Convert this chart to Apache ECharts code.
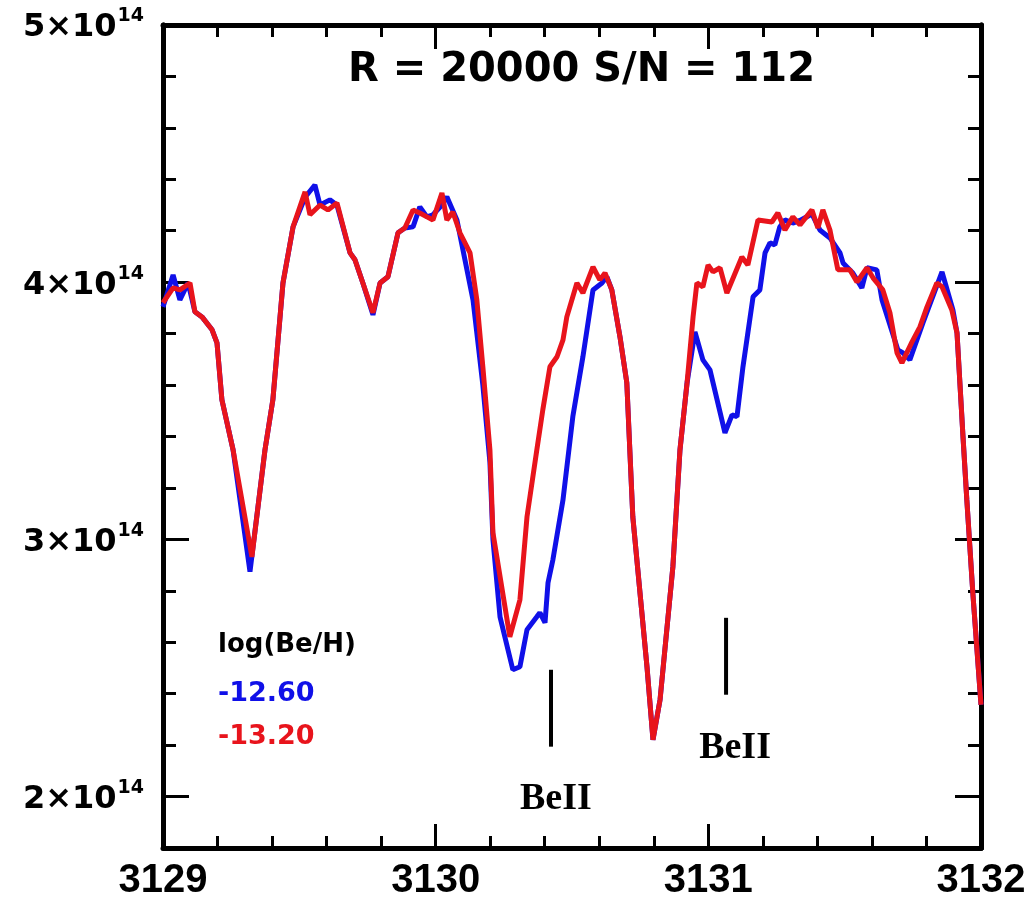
<!DOCTYPE html>
<html><head><meta charset="utf-8">
<script src="https://cdn.jsdelivr.net/npm/echarts@6/dist/echarts.min.js"></script>
<style>html,body{margin:0;padding:0;background:#fff}#c{width:1034px;height:903px}</style>
</head><body><div id="c"></div><script>
// flux in units of 1e14
const redWave=[3129.000,3129.037,3129.062,3129.099,3129.117,3129.143,3129.180,3129.198,3129.216,3129.257,3129.326,3129.374,3129.403,3129.440,3129.477,3129.521,3129.539,3129.576,3129.605,3129.638,3129.686,3129.704,3129.733,3129.770,3129.796,3129.825,3129.862,3129.887,3129.917,3129.942,3129.968,3129.990,3130.023,3130.041,3130.063,3130.089,3130.126,3130.151,3130.173,3130.199,3130.210,3130.272,3130.309,3130.335,3130.371,3130.393,3130.419,3130.445,3130.467,3130.481,3130.518,3130.540,3130.577,3130.602,3130.621,3130.646,3130.676,3130.701,3130.723,3130.775,3130.797,3130.823,3130.870,3130.896,3130.922,3130.944,3130.958,3130.980,3130.999,3131.017,3131.043,3131.068,3131.123,3131.145,3131.182,3131.233,3131.255,3131.281,3131.310,3131.336,3131.380,3131.402,3131.420,3131.446,3131.475,3131.519,3131.545,3131.582,3131.604,3131.640,3131.666,3131.692,3131.710,3131.747,3131.776,3131.802,3131.838,3131.857,3131.893,3131.912,3131.934,3131.948,3131.970,3132.000];
const redFlux=[3.920,3.978,3.970,3.997,3.885,3.865,3.815,3.764,3.543,3.348,2.932,3.348,3.543,3.997,4.215,4.351,4.262,4.300,4.281,4.308,4.114,4.087,3.997,3.881,3.997,4.021,4.192,4.211,4.281,4.269,4.254,4.242,4.347,4.242,4.273,4.192,4.114,3.931,3.671,3.348,3.026,2.621,2.765,3.088,3.348,3.504,3.671,3.710,3.776,3.865,3.997,3.958,4.059,4.009,4.036,3.970,3.787,3.609,3.088,2.505,2.221,2.377,2.894,3.348,3.609,3.865,3.997,3.982,4.067,4.040,4.056,3.958,4.098,4.067,4.242,4.234,4.269,4.203,4.254,4.223,4.281,4.211,4.281,4.203,4.048,4.048,4.001,4.056,4.017,3.970,3.881,3.725,3.686,3.768,3.826,3.904,3.997,3.982,3.892,3.803,3.399,3.154,2.792,2.357];
const blueWave=[3129.000,3129.037,3129.062,3129.092,3129.117,3129.143,3129.180,3129.198,3129.216,3129.257,3129.319,3129.374,3129.403,3129.440,3129.477,3129.521,3129.557,3129.576,3129.612,3129.638,3129.686,3129.704,3129.733,3129.770,3129.796,3129.825,3129.862,3129.887,3129.917,3129.942,3129.968,3129.990,3130.023,3130.041,3130.078,3130.100,3130.137,3130.173,3130.199,3130.210,3130.236,3130.283,3130.309,3130.335,3130.371,3130.382,3130.401,3130.412,3130.430,3130.467,3130.503,3130.540,3130.577,3130.610,3130.628,3130.646,3130.676,3130.701,3130.723,3130.775,3130.797,3130.823,3130.870,3130.896,3130.922,3130.951,3130.980,3131.006,3131.061,3131.087,3131.105,3131.127,3131.164,3131.189,3131.208,3131.226,3131.244,3131.262,3131.281,3131.310,3131.336,3131.380,3131.409,3131.446,3131.483,3131.494,3131.530,3131.563,3131.582,3131.618,3131.637,3131.695,3131.714,3131.739,3131.787,3131.857,3131.897,3131.912,3131.934,3131.948,3131.970,3132.000];
const blueFlux=[3.904,4.028,3.931,3.997,3.885,3.865,3.815,3.764,3.543,3.348,2.874,3.348,3.543,3.997,4.215,4.330,4.378,4.300,4.320,4.300,4.114,4.087,3.997,3.873,3.997,4.021,4.192,4.211,4.215,4.293,4.254,4.262,4.300,4.332,4.242,4.126,3.931,3.600,3.300,3.000,2.699,2.493,2.505,2.649,2.699,2.715,2.676,2.831,2.921,3.154,3.477,3.710,3.970,3.997,4.021,3.970,3.787,3.609,3.088,2.505,2.221,2.377,2.894,3.348,3.609,3.807,3.698,3.659,3.414,3.484,3.477,3.671,3.943,3.970,4.114,4.153,4.145,4.215,4.242,4.230,4.240,4.265,4.203,4.172,4.114,4.075,4.036,3.978,4.056,4.048,3.931,3.737,3.725,3.698,3.842,4.040,3.892,3.803,3.399,3.154,2.792,2.357];
const xTicks=[3129,3130,3131,3132];
const yMajor=[2,3,4,5];
const yMinor=[2.2,2.4,2.6,2.8,3.2,3.4,3.6,3.8,4.2,4.4,4.6,4.8];
const yMant={2:'2×10',3:'3×10',4:'4×10',5:'5×10'};
const yExp='14';
const beMarkWave=[3130.423,3131.065];
const beMarkLow=[2.194,2.396];
const beMarkHigh=[2.493,2.695];
const beTextWave=[3130.441,3131.098];
const beTextFlux=[1.988,2.190];
const beText='BeII';
const titleText='R = 20000 S/N = 112';
const legendTitle='log(Be/H)';
const legendItems=['-12.60','-13.20'];

const F="'Liberation Sans',Arial,sans-serif";
const DF="'DejaVu Sans',sans-serif";
const BLUE='#1010e8', RED='#e8141c';
const chart=echarts.init(document.getElementById('c'),null,{renderer:'canvas'});
const lineBlack={color:'#000',width:5};
function xAx(pos,showLabel){return {type:'value',min:3129,max:3132,interval:1,position:pos,
  axisLine:{show:true,onZero:false,lineStyle:lineBlack},
  axisTick:{show:true,inside:true,length:24,lineStyle:{color:'#000',width:3}},
  minorTick:{show:true,splitNumber:5,length:12,lineStyle:{color:'#000',width:3}},
  splitLine:{show:false},minorSplitLine:{show:false},
  axisLabel:{show:showLabel,margin:13,fontSize:40,fontWeight:'bold',fontFamily:F,color:'#000',
    customValues:xTicks,formatter:v=>String(Math.round(v))}};}
function yAx(pos,major,showLabel){return {type:'value',min:1.8,max:5,position:pos,
  axisLine:{show:true,onZero:false,lineStyle:lineBlack},
  axisTick:{show:true,inside:true,length:major?26:13,lineStyle:{color:'#000',width:3},customValues:major?yMajor:yMinor},
  splitLine:{show:false},
  axisLabel:{show:showLabel,margin:19,color:'#000',customValues:yMajor,
    formatter:v=>'{a|'+yMant[Math.round(v)]+'}{b|'+yExp+'}',
    rich:{a:{fontSize:32,fontWeight:'bold',fontFamily:DF,color:'#000',lineHeight:36,padding:[6,0,0,0]},
          b:{fontSize:19,fontWeight:'bold',fontFamily:DF,color:'#000',verticalAlign:'top',lineHeight:36,padding:[0,0,0,1]}}}};}
const series=[
  {type:'line',data:blueWave.map((w,i)=>[w,blueFlux[i]]),showSymbol:false,lineStyle:{color:BLUE,width:5},itemStyle:{color:BLUE},z:3,animation:false},
  {type:'line',data:redWave.map((w,i)=>[w,redFlux[i]]),showSymbol:false,lineStyle:{color:RED,width:5},itemStyle:{color:RED},z:4,animation:false}
];
beMarkWave.forEach((w,i)=>series.push({type:'line',data:[[w,beMarkLow[i]],[w,beMarkHigh[i]]],showSymbol:false,lineStyle:{color:'#000',width:4},z:5,animation:false}));
chart.setOption({
  animation:false,
  backgroundColor:'#fff',
  grid:{left:163,right:53,top:25,bottom:55,containLabel:false,outerBoundsMode:'none'},
  title:{text:titleText,left:343,top:46,textStyle:{fontFamily:DF,fontWeight:'bold',fontSize:40,color:'#000'}},
  xAxis:[xAx('bottom',true),xAx('top',false)],
  yAxis:[yAx('left',true,true),yAx('left',false,false),yAx('right',true,false),yAx('right',false,false)],
  graphic:[
    {type:'text',id:'lt',left:218,top:632,style:{text:legendTitle,fontFamily:DF,fontWeight:'bold',fontSize:26,fill:'#000'}},
    {type:'text',id:'l0',left:218,top:680,style:{text:legendItems[0],fontFamily:DF,fontWeight:'bold',fontSize:27,fill:BLUE}},
    {type:'text',id:'l1',left:218,top:723,style:{text:legendItems[1],fontFamily:DF,fontWeight:'bold',fontSize:27,fill:RED}}
  ],
  series:series
});
// Be II labels placed at data coordinates via the chart's own scales
const beGraphics=beTextWave.map((w,i)=>{
  const p=chart.convertToPixel({xAxisIndex:0,yAxisIndex:0},[w,beTextFlux[i]]);
  return {type:'text',id:'be'+i,x:p[0],y:p[1],z:10,
    style:{text:beText,align:'center',verticalAlign:'middle',fontFamily:"'Liberation Serif','DejaVu Serif',serif",fontWeight:'bold',fontSize:38,fill:'#000'}};
});
chart.setOption({graphic:beGraphics});
</script></body></html>
